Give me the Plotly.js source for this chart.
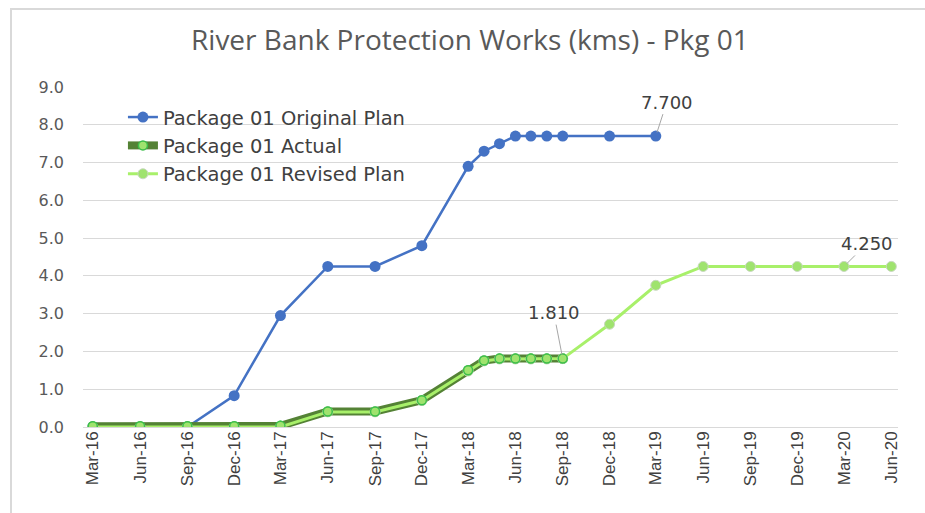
<!DOCTYPE html>
<html>
<head>
<meta charset="utf-8">
<script src="https://cdn.plot.ly/plotly-3.0.1.min.js"></script>
<style>
  html, body { margin: 0; padding: 0; background: #ffffff; }
  #frame { position: absolute; left: 10px; top: 8px; width: 915px; height: 505px;
           border-left: 2px solid #d9d9d9; border-top: 2px solid #d9d9d9; box-sizing: border-box; }
  #chart { position: absolute; left: 0; top: 0; width: 925px; height: 513px; }
</style>
</head>
<body>
<div id="frame"></div>
<div id="chart"></div>
<script>
// ---- data ----
const originalDates = ['2016-03-01','2016-06-01','2016-09-01','2016-12-01','2017-03-01','2017-06-01','2017-09-01','2017-12-01',
  '2018-03-01','2018-04-01','2018-05-01','2018-06-01','2018-07-01','2018-08-01','2018-09-01','2018-12-01','2019-03-01'];
const originalValues = [0, 0, 0, 0.83, 2.95, 4.25, 4.25, 4.8, 6.9, 7.3, 7.5, 7.7, 7.7, 7.7, 7.7, 7.7, 7.7];

const actualDates = ['2016-03-01','2016-06-01','2016-09-01','2016-12-01','2017-03-01','2017-06-01','2017-09-01','2017-12-01',
  '2018-03-01','2018-04-01','2018-05-01','2018-06-01','2018-07-01','2018-08-01','2018-09-01'];
const actualValues = [0.02, 0.02, 0.02, 0.02, 0.03, 0.41, 0.41, 0.71, 1.5, 1.76, 1.81, 1.81, 1.81, 1.81, 1.81];

const revisedDates = ['2016-03-01','2016-06-01','2016-09-01','2016-12-01','2017-03-01','2017-06-01','2017-09-01','2017-12-01',
  '2018-03-01','2018-04-01','2018-05-01','2018-06-01','2018-07-01','2018-08-01','2018-09-01','2018-12-01','2019-03-01',
  '2019-06-01','2019-09-01','2019-12-01','2020-03-01','2020-06-01'];
const revisedValues = [0, 0, 0, 0, 0, 0.4, 0.4, 0.7, 1.48, 1.75, 1.8, 1.8, 1.8, 1.8, 1.81, 2.72, 3.75, 4.25, 4.25, 4.25, 4.25, 4.25];

const tickDates = ['2016-03-01','2016-06-01','2016-09-01','2016-12-01','2017-03-01','2017-06-01','2017-09-01','2017-12-01',
  '2018-03-01','2018-06-01','2018-09-01','2018-12-01','2019-03-01','2019-06-01','2019-09-01','2019-12-01','2020-03-01','2020-06-01'];
const tickLabels = ['Mar-16','Jun-16','Sep-16','Dec-16','Mar-17','Jun-17','Sep-17','Dec-17','Mar-18','Jun-18','Sep-18',
  'Dec-18','Mar-19','Jun-19','Sep-19','Dec-19','Mar-20','Jun-20'];

const seriesNames = ['Package 01 Original Plan', 'Package 01 Actual', 'Package 01 Revised Plan'];

// ---- styles ----
const BLUE = '#4472C4', DARK = '#548235', LIGHT = '#A8F06A', MARK = '#9FE36E';
const TXT = '#404040';

const traces = [
  { x: originalDates, y: originalValues, name: seriesNames[0], mode: 'lines+markers', type: 'scatter',
    line: { color: BLUE, width: 2.5 }, marker: { color: BLUE, size: 11 } },
  { x: actualDates, y: actualValues, name: seriesNames[1], mode: 'lines+markers', type: 'scatter',
    line: { color: DARK, width: 8 }, marker: { color: MARK, size: 9, line: { color: '#3DBE4A', width: 1.5 } } },
  { x: revisedDates, y: revisedValues, name: seriesNames[2], mode: 'lines+markers', type: 'scatter',
    line: { color: LIGHT, width: 3 }, marker: { color: MARK, size: 10, line: { color: '#c8d8bf', width: 1 } } },
  { x: actualDates, y: actualValues, name: seriesNames[1], mode: 'markers', type: 'scatter', showlegend: false,
    hoverinfo: 'skip', marker: { color: MARK, size: 9, line: { color: '#3DBE4A', width: 1.5 } } }
];

const lastIdx = a => a.length - 1;
const annotations = [
  { x: originalDates[lastIdx(originalDates)], y: originalValues[lastIdx(originalValues)],
    text: originalValues[lastIdx(originalValues)].toFixed(3), ax: 11, ay: -34 },
  { x: actualDates[lastIdx(actualDates)], y: actualValues[lastIdx(actualValues)],
    text: actualValues[lastIdx(actualValues)].toFixed(3), ax: -9, ay: -46 },
  { x: revisedDates[revisedDates.length - 2], y: revisedValues[revisedValues.length - 2],
    text: revisedValues[revisedValues.length - 2].toFixed(3), ax: 23, ay: -23 }
].map(a => Object.assign(a, {
  xref: 'x', yref: 'y', showarrow: true, arrowhead: 0, arrowwidth: 1, arrowcolor: '#a6a6a6',
  standoff: 4, font: { family: 'DejaVu Sans', size: 18, color: TXT }
}));

const layout = {
  width: 925, height: 513,
  margin: { l: 83, r: 27, t: 87, b: 86, pad: 0 },
  paper_bgcolor: 'rgba(0,0,0,0)', plot_bgcolor: 'rgba(0,0,0,0)',
  title: { text: 'River Bank Protection Works (kms) - Pkg 01', x: 0.508, xanchor: 'center',
           y: 0.922, yanchor: 'middle', yref: 'container',
           font: { family: 'Open Sans', size: 28, color: '#595959' } },
  xaxis: { type: 'date', range: ['2016-02-11', '2020-06-14'], tickmode: 'array', tickvals: tickDates, ticktext: tickLabels,
           tickangle: -90, showgrid: false, zeroline: false, showline: false, ticks: '',
           tickfont: { family: 'Liberation Sans Narrow, Liberation Sans', size: 17, color: TXT } },
  yaxis: { range: [0, 9], dtick: 1, tick0: 0, tickformat: '.1f', showgrid: true, gridcolor: '#d9d9d9', gridwidth: 1,
           zeroline: true, zerolinecolor: '#d9d9d9', zerolinewidth: 1, showline: false, ticks: '',
           ticklabelstandoff: 18,
           tickfont: { family: 'DejaVu Sans', size: 16, color: '#595959' } },
  legend: { x: 0.049, y: 0.968, xanchor: 'left', yanchor: 'top', bgcolor: 'rgba(0,0,0,0)',
            font: { family: 'DejaVu Sans', size: 19.5, color: TXT }, tracegroupgap: 0, itemwidth: 30 },
  annotations: annotations,
  showlegend: true
};

Plotly.newPlot('chart', traces, layout, { displayModeBar: false, staticPlot: true });
</script>
</body>
</html>
